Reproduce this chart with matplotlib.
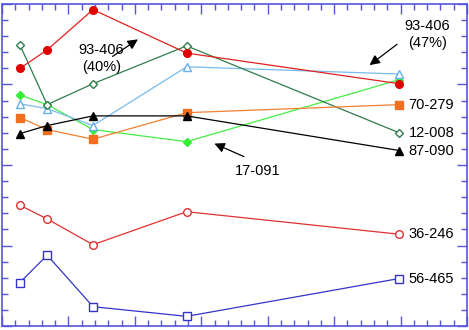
import matplotlib.pyplot as plt
from matplotlib.ticker import MultipleLocator

plt.rcParams['font.family'] = ['Liberation Sans', 'DejaVu Sans']

# sampling positions (same for every series)
x = [0.27, 0.68, 1.37, 2.78, 5.98]

# series values
red_filled = [16.0, 17.15, 19.65, 16.95, 15.05]     # 93-406
green_diamond = [17.45, 13.75, 15.05, 17.4, 12.0]   # 12-008
blue_tri = [13.8, 13.5, 12.45, 16.1, 15.65]
lime_diamond = [14.35, 13.75, 12.2, 11.45, 15.3]    # 17-091
orange_sq = [12.95, 12.2, 11.6, 13.25, 13.75]       # 70-279
black_tri = [11.95, 12.45, 13.05, 13.05, 10.9]      # 87-090
red_open = [7.5, 6.65, 5.05, 7.1, 5.7]              # 36-246
blue_sq = [2.7, 4.4, 1.2, 0.6, 2.95]                # 56-465

end_labels = ['70-279', '12-008', '87-090', '36-246', '56-465']
end_values = [orange_sq[-1], green_diamond[-1], black_tri[-1], red_open[-1], blue_sq[-1]]

fig = plt.figure(figsize=(4.69, 3.30), dpi=100)
ax = fig.add_axes([2/469, 4/330, 465/469, 322/330])

ax.plot(x, lime_diamond, color='#44ee44', lw=0.9, marker='D', ms=3.8, mfc='#33ee33', mec='#33ee33')
ax.plot(x, blue_tri, color='#77bbee', lw=0.9, marker='^', ms=5.5, mfc='white', mec='#66b0f0')
ax.plot(x, green_diamond, color='#2e7d4a', lw=0.9, marker='D', ms=3.8, mfc='white', mec='#2e7d4a')
ax.plot(x, orange_sq, color='#f08030', lw=0.9, marker='s', ms=5.5, mfc='#f07020', mec='#f07020')
ax.plot(x, black_tri, color='black', lw=0.9, marker='^', ms=5.5, mfc='black', mec='black')
ax.plot(x, red_filled, color='#e02020', lw=0.9, marker='o', ms=5.5, mfc='#e00000', mec='#e00000')
ax.plot(x, red_open, color='#e03030', lw=0.9, marker='o', ms=5.5, mfc='white', mec='#e03030')
ax.plot(x, blue_sq, color='#3333cc', lw=0.9, marker='s', ms=5.5, mfc='white', mec='#3333cc')

ax.set_xlim(0, 7)
ax.set_ylim(0, 20)

for lab, v in zip(end_labels, end_values):
    ax.text(6.12, v, lab, fontsize=10.5, va='center', ha='left')

ax.text(1.5, 16.6, '93-406\n(40%)', fontsize=10.5, ha='center', va='center', linespacing=1.25)
ax.annotate('', xy=(2.08, 17.9), xytext=(1.63, 16.65),
            arrowprops=dict(arrowstyle='-|>', color='black', lw=0.9, mutation_scale=15))
ax.text(6.4, 18.1, '93-406\n(47%)', fontsize=10.5, ha='center', va='center', linespacing=1.25)
ax.annotate('', xy=(5.5, 16.1), xytext=(5.98, 17.6),
            arrowprops=dict(arrowstyle='-|>', color='black', lw=0.9, mutation_scale=15))
ax.text(3.85, 9.6, '17-091', fontsize=10.5, ha='center', va='center')
ax.annotate('', xy=(3.16, 11.4), xytext=(3.68, 10.45),
            arrowprops=dict(arrowstyle='-|>', color='black', lw=0.9, mutation_scale=15))

spine_col = '#5555dd'
for s in ax.spines.values():
    s.set_color(spine_col)
    s.set_linewidth(1.2)
ax.xaxis.set_major_locator(MultipleLocator(1))
ax.xaxis.set_minor_locator(MultipleLocator(0.2))
ax.yaxis.set_major_locator(MultipleLocator(5))
ax.yaxis.set_minor_locator(MultipleLocator(1))
ax.tick_params(which='both', direction='in', top=True, right=True, color=spine_col,
               labelbottom=False, labelleft=False, width=1)
ax.tick_params(which='major', length=7.5)
ax.tick_params(which='minor', length=4)

fig.savefig('out.png', dpi=100)
